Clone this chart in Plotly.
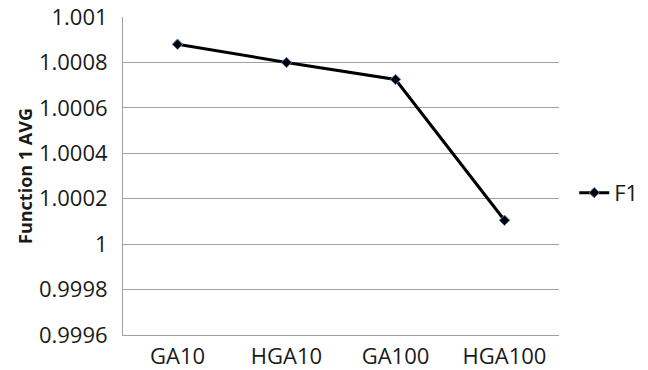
import plotly.graph_objects as go

categories = ["GA10", "HGA10", "GA100", "HGA100"]
values = [1.00088, 1.0008, 1.000725, 1.000105]
series_name = "F1"
y_ticks = [0.9996, 0.9998, 1.0, 1.0002, 1.0004, 1.0006, 1.0008, 1.001]
y_tick_labels = ["0.9996", "0.9998", "1", "1.0002", "1.0004", "1.0006", "1.0008", "1.001"]

FONT = "Open Sans"
TXT = "#1a1a1a"

fig = go.Figure()
fig.add_trace(go.Scatter(
    x=categories, y=values, name=series_name, mode="lines+markers",
    line=dict(color="black", width=3),
    marker=dict(symbol="diamond", size=8, color="black",
                line=dict(color="#4a7fc1", width=1)),
))

fig.update_layout(
    width=648, height=370,
    margin=dict(l=123, r=89, t=17, b=35, autoexpand=False),
    paper_bgcolor="white", plot_bgcolor="white",
    font=dict(family=FONT, size=22, color=TXT),
    showlegend=True,
    legend=dict(x=1.035, y=0.447, xanchor="left", yanchor="middle",
                font=dict(family=FONT, size=22, color=TXT),
                bgcolor="rgba(0,0,0,0)", itemwidth=30),
    xaxis=dict(
        type="category", range=[-0.5, 3.5], automargin=False,
        showgrid=False, showline=True, linecolor="#a0a0a0", linewidth=1,
        ticks="", tickfont=dict(family=FONT, size=22, color=TXT),
        ticklabelstandoff=2,
    ),
    yaxis=dict(
        range=[0.9996, 1.001], tickvals=y_ticks, ticktext=y_tick_labels,
        automargin=False, ticklabeloverflow="allow",
        showgrid=True, gridcolor="#a0a0a0", gridwidth=1,
        showline=True, linecolor="#a0a0a0", linewidth=1,
        zeroline=False, ticks="", tickfont=dict(family=FONT, size=22, color=TXT),
        ticklabelstandoff=10,
        title=dict(text="<b>Function 1 AVG</b>", font=dict(family=FONT, size=18, color=TXT), standoff=1),
    ),
)

# remove the browser's default 8px body margin so the figure fills the window
fig.write_html("out.html", config={"displayModeBar": False},
               post_script="document.body.style.margin='0';")
